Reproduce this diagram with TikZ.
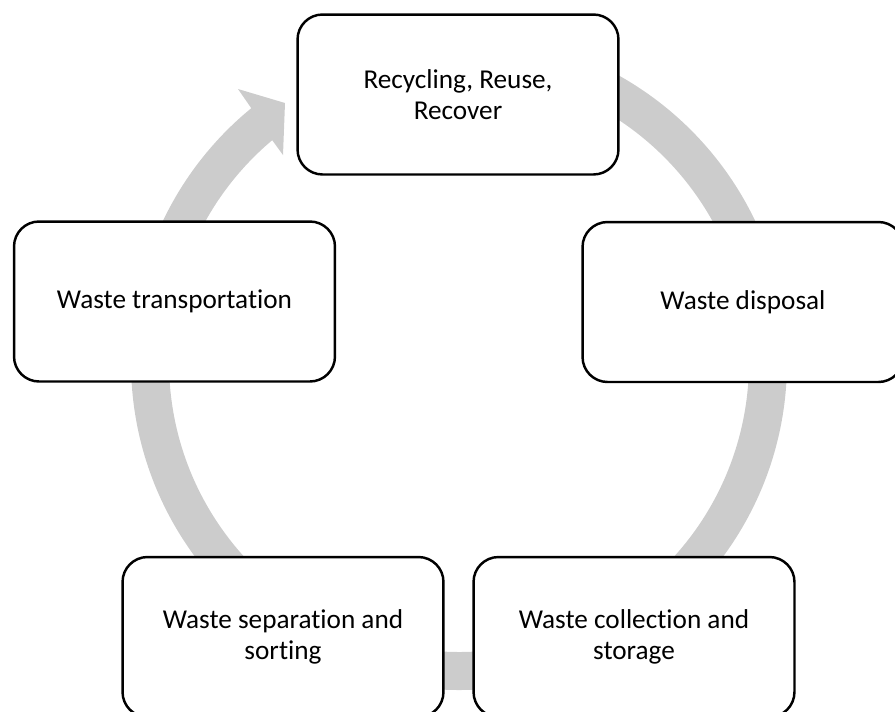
\documentclass[tikz,border=0pt]{standalone}
\usepackage{fontspec}
\setmainfont[Ligatures={NoCommon}]{Carlito}
\usetikzlibrary{calc}
\definecolor{ringgrey}{RGB}{204,204,204}
\begin{document}
\begin{tikzpicture}[x=0.02cm,y=0.02cm,
  box/.style={draw=black, line width=1.4pt, fill=white, rounded corners=0.5cm,
    minimum width=6.42cm, minimum height=3.2cm, align=center, inner sep=0pt,
    font=\fontsize{15.5}{17.6}\selectfont},
  ring/.style={fill=ringgrey}]
\useasboundingbox (0,0) rectangle (895,-711);
\clip (0,0) rectangle (895,-711);
\coordinate (c) at (459,-362);
\fill[ring] ($(c)+(90:328)$) arc[start angle=90, end angle=-230.7, radius=328]
  -- (238,-89) -- (285,-103) -- (283,-155)
  -- ($(c)+(-229.9:290)$) arc[start angle=-229.9, end angle=90, radius=290] -- cycle;
\node[box] (recycle) at (458,-94.5) {Recycling, Reuse,\\Recover};
\node[box] (disposal) at (743,-302) {Waste disposal};
\node[box] (transport) at (174.5,-301.5) {Waste transportation};
\node[box] (separation) at (283,-637) {Waste separation and\\sorting};
\node[box] (collection) at (634,-637) {Waste collection and\\storage};
\end{tikzpicture}
\end{document}
